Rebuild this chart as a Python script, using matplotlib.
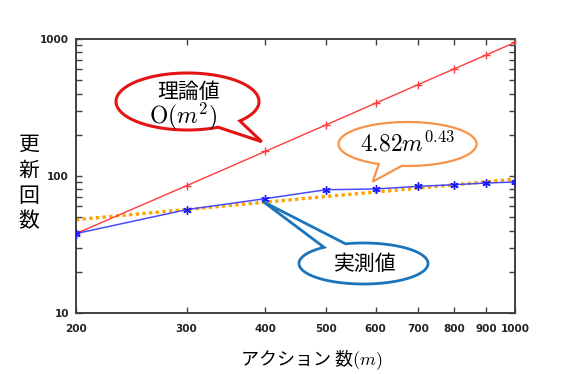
import numpy as np
import matplotlib
matplotlib.use("Agg")
import matplotlib.pyplot as plt
from matplotlib.patches import Polygon
from matplotlib.transforms import Affine2D
from matplotlib.ticker import FixedLocator, NullFormatter

plt.rcParams['font.family'] = ['Noto Sans CJK JP', 'DejaVu Sans']
plt.rcParams['mathtext.fontset'] = 'cm'

# data
actions = [200, 300, 400, 500, 600, 700, 800, 900, 1000]
theory = [38, 85, 151, 236, 340, 463, 605, 765, 944]
measured = [38, 56.8, 68.3, 79.4, 80.4, 84, 86.4, 88.9, 90.4]
fit = [48, 56.9, 64.4, 70.9, 76.4, 81.5, 86.2, 90.7, 95]
xticks = [200, 300, 400, 500, 600, 700, 800, 900, 1000]
yticks = [10, 100, 1000]

W, H = 565, 374
fig = plt.figure(figsize=(W / 100, H / 100), dpi=100, facecolor='white')
ax = fig.add_axes([76 / W, 1 - 313 / H, (515 - 76) / W, (313 - 39) / H])

ax.plot(actions, theory, color='#FF3b3b', lw=1.0, marker='+', ms=6, mew=1.0, zorder=3)
ax.plot(actions, fit, color='#FFA500', lw=2.4, ls=(0, (1, 1)), zorder=2)
ax.plot(actions, measured, color='#4a4aff', lw=1.1, marker=(6, 2, 0), ms=6,
        mec='#1a1aff', mew=1.0, zorder=4)

ax.set_xscale('log')
ax.set_yscale('log')
ax.set_xlim(200, 1000)
ax.set_ylim(10, 1000)

ax.xaxis.set_major_locator(FixedLocator(xticks))
ax.xaxis.set_minor_locator(FixedLocator([]))
ax.set_xticklabels([str(v) for v in xticks])
ax.yaxis.set_major_locator(FixedLocator(yticks))
ax.set_yticklabels([str(v) for v in yticks])
ax.yaxis.set_minor_formatter(NullFormatter())

ax.tick_params(which='both', direction='in', top=True, right=True, color='#404040', width=1.0)
ax.tick_params(which='major', length=4)
ax.tick_params(which='minor', length=4)
ax.tick_params(axis='x', pad=8)
ax.tick_params(axis='y', pad=5)
for lab in ax.get_xticklabels() + ax.get_yticklabels():
    lab.set_family('DejaVu Sans')
    lab.set_fontweight('bold')
    lab.set_fontsize(7.5)
    lab.set_color('#222222')
for s in ax.spines.values():
    s.set_color('#404040')
    s.set_linewidth(1.4)

# pixel coordinates (y down) -> figure
px = Affine2D().scale(1 / W, -1 / H).translate(0, 1) + fig.transFigure


def callout(cx, cy, w, h, b1, b2, tip, color, lw):
    def ang(p):
        return np.arctan2(-(p[1] - cy) / (h / 2), (p[0] - cx) / (w / 2))
    a, b = ang(b1), ang(b2)
    d = (b - a) % (2 * np.pi)
    if d > np.pi:
        ts = np.linspace(a, a + d, 200)
    else:
        ts = np.linspace(b, b + 2 * np.pi - d, 200)
    pts = [(cx + w / 2 * np.cos(t), cy - h / 2 * np.sin(t)) for t in ts]
    pts.append(tip)
    poly = Polygon(pts, closed=True, facecolor='white', edgecolor=color, lw=lw,
                   transform=px, zorder=10, joinstyle='miter')
    fig.add_artist(poly)


callout(187.5, 101.5, 143, 57, (239.3, 120.7), (218.3, 127.3), (261.7, 141.7), '#E41414', 2.2)
callout(407.5, 144, 138, 44, (376.7, 165.5), (401.7, 165.5), (372.7, 181.7), '#F5944A', 1.6)
callout(363.5, 263.5, 129, 41, (323.3, 247), (345, 243.3), (263.3, 201.7), '#1A75BC', 2.0)

fig.text(188.5, 91.5, '理論値', transform=px, ha='center', va='center', fontsize=15, zorder=11)
fig.text(183.5, 116.5, r'$\mathrm{O}(m^2)$', transform=px, ha='center', va='center', fontsize=17, zorder=11)
fig.text(407.5, 144, r'$4.82m^{0.43}$', transform=px, ha='center', va='center', fontsize=17, zorder=11)
fig.text(365, 263.5, '実測値', transform=px, ha='center', va='center', fontsize=15, zorder=11)

# y label stacked vertically
for i, ch in enumerate('更新回数'):
    fig.text(29, 145 + i * 25.5, ch, transform=px, ha='center', va='center',
             fontsize=15, fontweight='normal')

fig.text(311.7, 359.5, 'アクション 数' + r'$(m)$', transform=px, ha='center', va='center', fontsize=13)

fig.savefig('out.png', dpi=100, facecolor='white')
